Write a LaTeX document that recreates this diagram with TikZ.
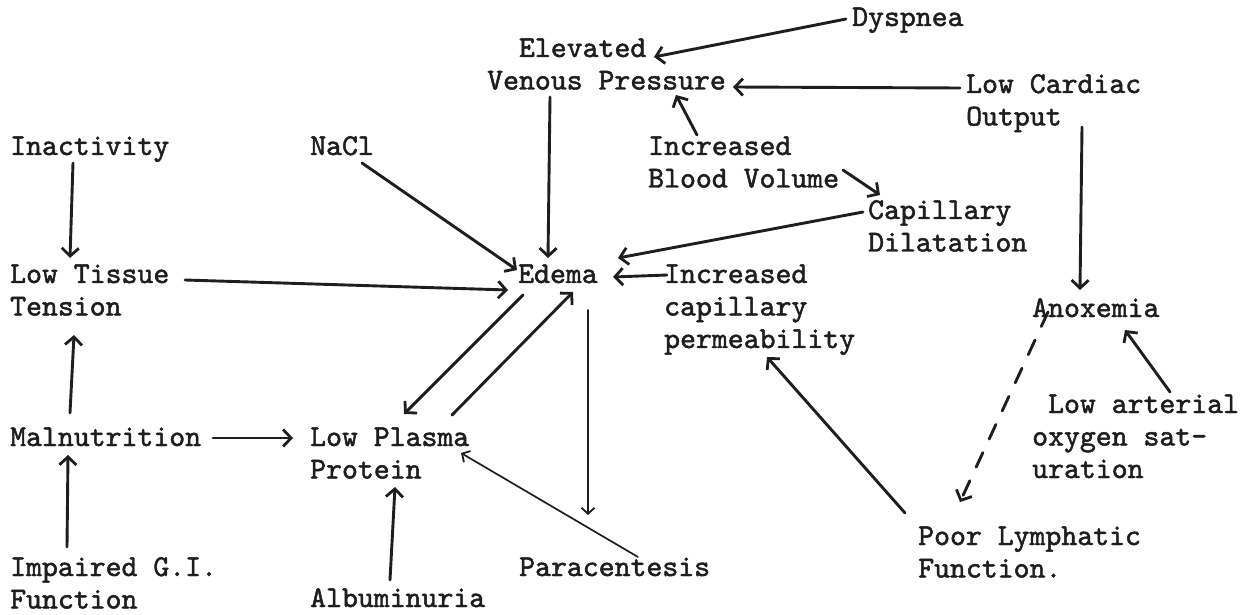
\documentclass[tikz,border=0pt]{standalone}
\usepackage{fontspec}
\newfontfamily\tw{lmmono10-regular.otf}[FakeBold=1.6]
\usetikzlibrary{arrows.meta}
\definecolor{ink}{HTML}{1E1E1E}
\newcommand{\ml}[1]{\vtop{\baselineskip=32.5pt\halign{##\hfil\cr#1\crcr}}}
\tikzset{
  lbl/.style={inner sep=0pt, anchor=base west, text=ink,
    font={\tw\fontsize{30.3}{32.5}\selectfont}},
  arr/.style={draw=ink, line width=2.9pt, line cap=round,
    -{Straight Barb[length=8pt,width=17pt,line width=2.8pt]}},
  thinarr/.style={draw=ink, line width=1.7pt, line cap=round,
    -{Straight Barb[length=6pt,width=13pt,line width=1.8pt]}},
  dasharr/.style={arr, dash pattern=on 16pt off 15pt}
}
\begin{document}
\begin{tikzpicture}[x=1pt,y=1pt]
\useasboundingbox[fill=white] (0,0) rectangle (1255,614);
% nodes (base west = left end of first baseline)
\node[lbl] (dys)   at (852,588) {Dyspnea};
\node[lbl] (elev)  at (487,557) {\ml{\phantom{Ve}Elevated\cr Venous Pressure}};
\node[lbl] (lco)   at (966,521) {\ml{Low Cardiac\cr Output}};
\node[lbl] (ibv)   at (648,459) {\ml{Increased\cr Blood Volume}};
\node[lbl] (inact) at (10,459)  {Inactivity};
\node[lbl] (nacl)  at (310,459) {NaCl};
\node[lbl] (cap)   at (868,395) {\ml{Capillary\cr Dilatation}};
\node[lbl] (lowt)  at (10,331)  {\ml{Low Tissue\cr Tension}};
\node[lbl] (edema) at (518,331) {Edema};
\node[lbl] (icp)   at (664,331) {\ml{Increased\cr capillary\cr permeability}};
\node[lbl] (anox)  at (1032,297) {Anoxemia};
\node[lbl] (lart)  at (1032,201) {\ml{\phantom{o}Low arterial\cr oxygen sat-\cr uration}};
\node[lbl] (maln)  at (10,168)  {Malnutrition};
\node[lbl] (lpp)   at (310,168) {\ml{Low Plasma\cr Protein}};
\node[lbl] (pl)    at (918,69)  {\ml{Poor Lymphatic\cr Function.}};
\node[lbl] (igi)   at (10,38)   {\ml{Impaired G.I.\cr Function}};
\node[lbl] (para)  at (519,38)  {Paracentesis};
\node[lbl] (alb)   at (310,7)   {Albuminuria};
% connectors
\draw[arr] ([shift={(-6,7)}]dys.base west) -- ([shift={(167,0)}]elev.base west);
\draw[arr] ([shift={(-6,5)}]lco.base west) -- ([shift={(246,-30)}]elev.base west);
\draw[arr] ([shift={(49,20)}]ibv.base west) -- ([shift={(189,-38)}]elev.base west);
\draw[arr] ([shift={(195,-15)}]ibv.base west) -- ([shift={(12,24)}]cap.base west);
\draw[arr] ([shift={(63,-40)}]elev.base west) -- ([shift={(30,25)}]edema.base west);
\draw[arr] ([shift={(52,-8)}]nacl.base west) -- ([shift={(-1,13)}]edema.base west);
\draw[arr] ([shift={(-5,7)}]cap.base west) -- ([shift={(100,25)}]edema.base west);
\draw[arr] ([shift={(3,8)}]icp.base west) -- ([shift={(95,6)}]edema.base west);
\draw[arr] ([shift={(175,3)}]lowt.base west) -- ([shift={(-10,-7)}]edema.base west);
\draw[arr] ([shift={(63,-8)}]inact.base west) -- ([shift={(60,25)}]lowt.base west);
\draw[arr] ([shift={(60,33)}]maln.base west) -- ([shift={(64,-52)}]lowt.base west);
\draw[arr] ([shift={(57,29)}]igi.base west) -- ([shift={(58,-9)}]maln.base west);
\draw[arr] ([shift={(203,8)}]maln.base west) -- ([shift={(-17,8)}]lpp.base west);
\draw[arr] ([shift={(5,-12)}]edema.base west) -- ([shift={(94,32)}]lpp.base west);
\draw[arr] ([shift={(142,31)}]lpp.base west) -- ([shift={(55,-9)}]edema.base west);
\draw[thinarr] ([shift={(70,-27)}]edema.base west) -- ([shift={(69,61)}]para.base west);
\draw[thinarr] ([shift={(119,19)}]para.base west) -- ([shift={(151,-7)}]lpp.base west);
\draw[arr] ([shift={(80,27)}]alb.base west) -- ([shift={(85,-41)}]lpp.base west);
\draw[arr] ([shift={(-13,32)}]pl.base west) -- ([shift={(103,-74)}]icp.base west);
\draw[arr] ([shift={(116,-34)}]lco.base west) -- ([shift={(48,27)}]anox.base west);
\draw[dasharr] ([shift={(16,5)}]anox.base west) -- ([shift={(42,43)}]pl.base west);
\draw[arr] ([shift={(138,21)}]lart.base west) -- ([shift={(93,-13)}]anox.base west);
\end{tikzpicture}
\end{document}
